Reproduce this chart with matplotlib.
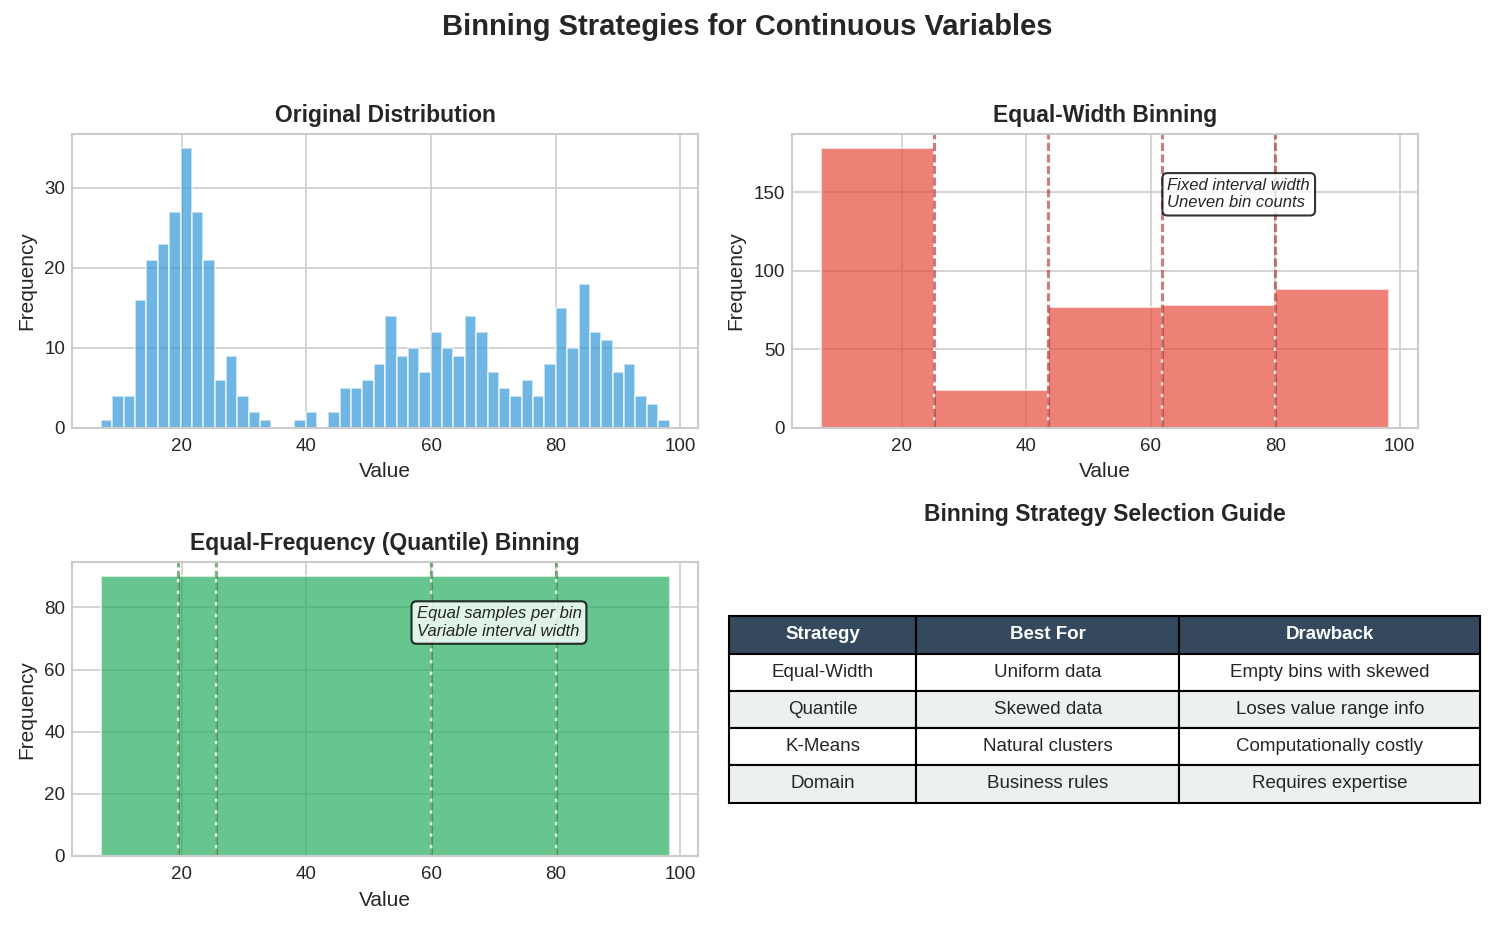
import numpy as np
import matplotlib
matplotlib.use('Agg')
import matplotlib.pyplot as plt

plt.style.use('seaborn-v0_8-whitegrid')
plt.rcParams['font.family'] = ['Liberation Sans', 'DejaVu Sans']

# ---------------- data ----------------
value_min, value_max = 7.0, 98.3
fine_counts = [1, 4, 4, 16, 21, 23, 27, 35, 27, 21,
               6, 9, 4, 2, 1, 0, 0, 1, 2, 0,
               2, 5, 5, 6, 8, 14, 9, 10, 7, 12,
               10, 9, 14, 12, 7, 5, 4, 6, 4, 8,
               15, 10, 18, 12, 11, 7, 8, 4, 3, 1]
equal_width_edges = [7.0, 25.26, 43.52, 61.78, 80.04, 98.3]
equal_width_counts = [178, 24, 77, 78, 88]
quantile_edges = [7.0, 19.3, 25.5, 60.0, 80.0, 98.3]
quantile_counts = [90, 90, 90, 90, 90]

table_columns = ['Strategy', 'Best For', 'Drawback']
strategy_names = ['Equal-Width', 'Quantile', 'K-Means', 'Domain']
best_for = ['Uniform data', 'Skewed data', 'Natural clusters', 'Business rules']
drawbacks = ['Empty bins with skewed', 'Loses value range info',
             'Computationally costly', 'Requires expertise']

# ---------------- figure ----------------
fig = plt.figure(figsize=(1494 / 150, 925 / 150), dpi=150)
gs = fig.add_gridspec(2, 2, left=0.0485, right=0.9489, top=0.8551,
                      bottom=0.0746, wspace=0.1504, hspace=0.458)
ax1 = fig.add_subplot(gs[0, 0])
ax2 = fig.add_subplot(gs[0, 1])
ax3 = fig.add_subplot(gs[1, 0])
ax4 = fig.add_subplot(gs[1, 1])

fig.suptitle('Binning Strategies for Continuous Variables', fontsize=14,
             fontweight='bold', y=1 - 27 / 925, va='center')

def style_axes(ax, title):
    ax.set_title(title, fontsize=11, fontweight='bold')
    ax.set_xlabel('Value', fontsize=10, labelpad=3.5)
    ax.set_ylabel('Frequency', fontsize=10)
    ax.tick_params(labelsize=9)
    ax.tick_params(axis='x', pad=5)

# Original distribution
fine_edges = np.linspace(value_min, value_max, len(fine_counts) + 1)
ax1.bar(fine_edges[:-1], fine_counts, width=np.diff(fine_edges), align='edge',
        color='#3498db', alpha=0.7, edgecolor='white', linewidth=0.8)
style_axes(ax1, 'Original Distribution')

# Equal-width binning
ew = np.array(equal_width_edges)
ax2.bar(ew[:-1], equal_width_counts, width=np.diff(ew), align='edge',
        color='#e74c3c', alpha=0.7, edgecolor='white', linewidth=1.0)
for e in ew[1:-1]:
    ax2.axvline(e, color='#a52a2a', linestyle=(0, (2.6, 1.1)),
                alpha=0.6, linewidth=1.5)
ax2.text(0.6, 0.85, 'Fixed interval width\nUneven bin counts',
         transform=ax2.transAxes, fontsize=8, style='italic', va='top',
         bbox=dict(boxstyle='round,pad=0.3', facecolor='white', alpha=0.8))
style_axes(ax2, 'Equal-Width Binning')

# Quantile binning
qe = np.array(quantile_edges)
ax3.bar(qe[:-1], quantile_counts, width=np.diff(qe), align='edge',
        color='#27ae60', alpha=0.7, edgecolor='white', linewidth=1.0)
for e in qe[1:-1]:
    ax3.axvline(e, color='#2e7d32', linestyle=(0, (2.6, 1.1)),
                alpha=0.6, linewidth=1.5)
ax3.text(0.55, 0.85, 'Equal samples per bin\nVariable interval width',
         transform=ax3.transAxes, fontsize=8, style='italic', va='top',
         bbox=dict(boxstyle='round,pad=0.3', facecolor='white', alpha=0.8))
style_axes(ax3, 'Equal-Frequency (Quantile) Binning')

# Table
ax4.axis('off')
ax4.set_title('Binning Strategy Selection Guide', fontsize=11,
              fontweight='bold', pad=20)
cell_text = [[s, b, d] for s, b, d in zip(strategy_names, best_for, drawbacks)]
tbl = ax4.table(cellText=cell_text, colLabels=table_columns,
                cellLoc='center', colWidths=[0.3, 0.42, 0.48],
                bbox=[-0.1014, 0.182, 1.201, 0.634])
tbl.auto_set_font_size(False)
tbl.set_fontsize(9)
for (r, c), cell in tbl.get_celld().items():
    cell.set_edgecolor('black')
    cell.set_linewidth(1.0)
    if r == 0:
        cell.set_facecolor('#34495e')
        cell.get_text().set_color('white')
        cell.get_text().set_fontweight('bold')
    elif r % 2 == 0:
        cell.set_facecolor('#ecf0f1')
    else:
        cell.set_facecolor('white')

fig.savefig('out.png', dpi=150)
